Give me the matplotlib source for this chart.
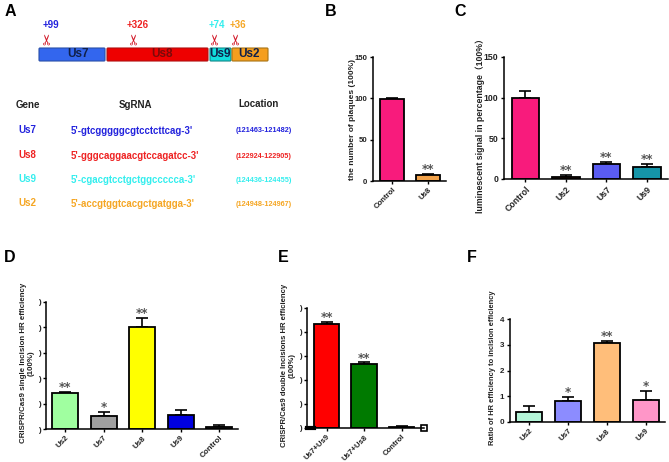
import matplotlib
matplotlib.use('Agg')
import matplotlib.pyplot as plt
from matplotlib.patches import FancyBboxPatch

W, H = 669, 462
plt.rcParams['font.family'] = ['Liberation Sans', 'Noto Sans CJK SC', 'DejaVu Sans']

# panel B
b_names = ['Control', 'Us8']
b_vals = [99, 7.5]
b_errs = [1, 1]
b_cols = ['#F81B7C', '#F2A24A']
b_stars = ['', '**']

# panel C
c_names = ['Control', 'Us2', 'Us7', 'Us9']
c_vals = [100, 3, 18, 15]
c_errs = [8, 1.5, 3.5, 3.5]
c_cols = ['#F81B7C', '#8C3A1E', '#5A5CF2', '#1595A8']
c_stars = ['', '**', '**', '**']

# panel D
d_names = ['Us2', 'Us7', 'Us8', 'Us9', 'Control']
d_vals = [1.42, 0.51, 4.0, 0.56, 0.08]
d_errs = [0.03, 0.15, 0.38, 0.2, 0.06]
d_cols = ['#A0FFA0', '#A0A0A0', '#FFFF00', '#0000E0', '#555555']
d_stars = ['**', '*', '**', '', '']

# panel E
e_names = ['Us7+Us9', 'Us7+Us8', 'Control']
e_vals = [4.32, 2.68, 0.05]
e_errs = [0.08, 0.05, 0.04]
e_cols = ['#FF0000', '#007A00', '#333333']
e_stars = ['**', '**', '']

# panel F
f_names = ['Us2', 'Us7', 'Us8', 'Us9']
f_vals = [0.39, 0.83, 3.07, 0.87]
f_errs = [0.23, 0.15, 0.08, 0.33]
f_cols = ['#B4F5D8', '#8C8CFF', '#FFBE7A', '#FF96C8']
f_stars = ['', '*', '**', '*']

# panel A
genes = ['Us7', 'Us8', 'Us9', 'Us2']
gene_cols = ['#3366EE', '#EE0000', '#11DDDD', '#F59E1E']
gene_edges = ['#2A4FA8', '#B01010', '#118888', '#A87414']
gene_spans = [(39, 105), (107, 208), (210, 231), (232, 268)]
gene_label_x = [78, 162, 220, 249]
cut_labels = ['+99', '+326', '+74', '+36']
cut_x = [48, 135, 216, 237]
cut_label_x = [51, 138, 217, 238]
text_cols = ['#2222DD', '#EE2222', '#33EEEE', '#F5A623']
sgrna = ["5'-gtcgggggcgtcctcttcag-3'", "5'-gggcaggaacgtccagatcc-3'",
         "5'-cgacgtcctgctggccccca-3'", "5'-accgtggtcacgctgatgga-3'"]
locs = ['(121463-121482)', '(122924-122905)', '(124436-124455)', '(124948-124967)']
rows_y = [130, 155, 179, 203]

fig = plt.figure(figsize=(W/100, H/100), dpi=100)

# overlay in pixel units for panel A and the letters
bg = fig.add_axes([0, 0, 1, 1])
bg.set_xlim(0, W)
bg.set_ylim(H, 0)
bg.axis('off')

for s, x, y in [('A', 10, 11), ('B', 331, 11), ('C', 460, 11),
                ('D', 10, 257), ('E', 283, 257), ('F', 472, 257)]:
    bg.text(x, y, s, fontsize=11.5, fontweight='bold', ha='center', va='center', color='black')

for i in range(4):
    x0, x1 = gene_spans[i]
    bg.add_patch(FancyBboxPatch((x0+1, 49), x1-x0-2, 11, boxstyle='round,pad=1',
                                fc=gene_cols[i], ec=gene_edges[i], lw=0.8))
    col = '#7A0A0A' if i == 1 else '#10204A'
    bg.text(gene_label_x[i], 54, genes[i], fontsize=8.5, fontweight='bold', ha='center', va='center', color=col)
    bg.text(cut_label_x[i], 25, cut_labels[i], fontsize=7, fontweight='bold', ha='center', va='center',
            color=text_cols[i])
    # rotation_mode anchor keeps the glyph centred above the box
    bg.text(cut_x[i], 39, '\u2702', fontsize=10.5, rotation=90, ha='center', va='center',
            rotation_mode='anchor', color='#D01020', family='DejaVu Sans')

bg.text(28, 105, 'Gene', fontsize=7, fontweight='bold', ha='center', va='center', color='#222222')
bg.text(135, 105, 'SgRNA', fontsize=7, fontweight='bold', ha='center', va='center', color='#222222')
bg.text(259, 104, 'Location', fontsize=7, fontweight='bold', ha='center', va='center', color='#222222')
for i, k in enumerate([0, 1, 2, 3]):
    y = rows_y[i]
    bg.text(18, y, genes[k], fontsize=7, fontweight='bold', va='center', color=text_cols[k])
    bg.text(71, y+1, sgrna[k], fontsize=6.9, fontweight='bold', va='center', color=text_cols[k])
    bg.text(236, y+1, locs[k], fontsize=5.2, fontweight='bold', va='center', color=text_cols[k])


def bars(box, ylim, xlim, names, vals, errs, cols, stars, ylabel, yticks, ticklabels, fs, ylab_x, lab_fs):
    # box is left, top, right, bottom in pixels
    l, t, r, b = box
    ax = fig.add_axes([l/W, 1-b/H, (r-l)/W, (b-t)/H])
    ax.patch.set_alpha(0)
    x = list(range(len(names)))
    ax.bar(x, vals, width=0.67, color=cols, edgecolor='black', linewidth=1.3, zorder=2)
    ax.errorbar(x, vals, yerr=[[0]*len(x), errs], fmt='none', ecolor='black', elinewidth=1.2,
                capsize=4.5, capthick=1.2, zorder=1)
    ax.set_xlim(*xlim)
    ax.set_ylim(*ylim)
    ax.set_xticks(x)
    ax.set_xticklabels(names, rotation=45, ha='right', rotation_mode='anchor', fontsize=fs,
                       fontweight='bold', color='#222222')
    ax.set_yticks(yticks)
    ax.set_yticklabels(ticklabels, fontsize=fs, fontweight='bold', color='#222222')
    ax.tick_params(length=2.5, width=1, pad=1.5)
    for s in ['top', 'right']:
        ax.spines[s].set_visible(False)
    for s in ['left', 'bottom']:
        ax.spines[s].set_linewidth(1.1)
    for i in x:
        if stars[i]:
            ax.annotate(stars[i], (i, vals[i]+errs[i]), xytext=(0, -1.5), textcoords='offset points',
                        ha='center', va='bottom', fontsize=8.5, family='DejaVu Sans',
                        fontweight='bold', color='#555555')
    bg.text(ylab_x, ylabel[1], ylabel[0], rotation=90, fontsize=lab_fs,
            fontweight='bold', ha='center', va='center', color='#222222', linespacing=1.15)
    return ax


bars((373, 57, 446, 181), (0, 150), (-0.53, 1.5), b_names, b_vals, b_errs, b_cols, b_stars,
     ('the number of plaques (100%)', 119), [0, 50, 100, 150], ['0', '50', '100', '150'], 5.6, 352, 6)
bars((504, 57, 668, 179), (0, 150), (-0.53, 3.52), c_names, c_vals, c_errs, c_cols, c_stars,
     ('luminescent signal in percentage\uff08100%\uff09', 124), [0, 50, 100, 150],
     ['0', '50', '100', '150'], 6.3, 480, 6.3)
bars((46, 302, 238, 429), (0, 5), (-0.5, 4.49), d_names, d_vals, d_errs, d_cols, d_stars,
     ('CRISPR/Cas9 single Incision HR efficiency\n(100%)', 363), range(6), [')']*6, 5.8, 27, 5.7)
ax_e = bars((307, 308, 424, 428), (0, 5), (-0.52, 2.6), e_names, e_vals, e_errs, e_cols, e_stars,
            ('CRISPR/Cas9 double Incisions HR efficiency\n(100%)', 365), range(6), [')']*6, 5.6, 288, 5.6)
ax_e.plot([-0.52, -0.34], [0.0, 0.0], color='black', lw=3, zorder=3, clip_on=False)
ax_e.plot([2.6], [0.0], marker='s', ms=4, mfc='white', mec='black', mew=1.2, clip_on=False)
bars((510, 319, 665, 422), (0, 4), (-0.5, 3.5), f_names, f_vals, f_errs, f_cols, f_stars,
     ('Ratio of HR efficiency to incision efficiency', 368), range(5), ['0', '1', '2', '3', '4'], 5.8, 492, 5.4)

fig.savefig('out.png', dpi=100)
